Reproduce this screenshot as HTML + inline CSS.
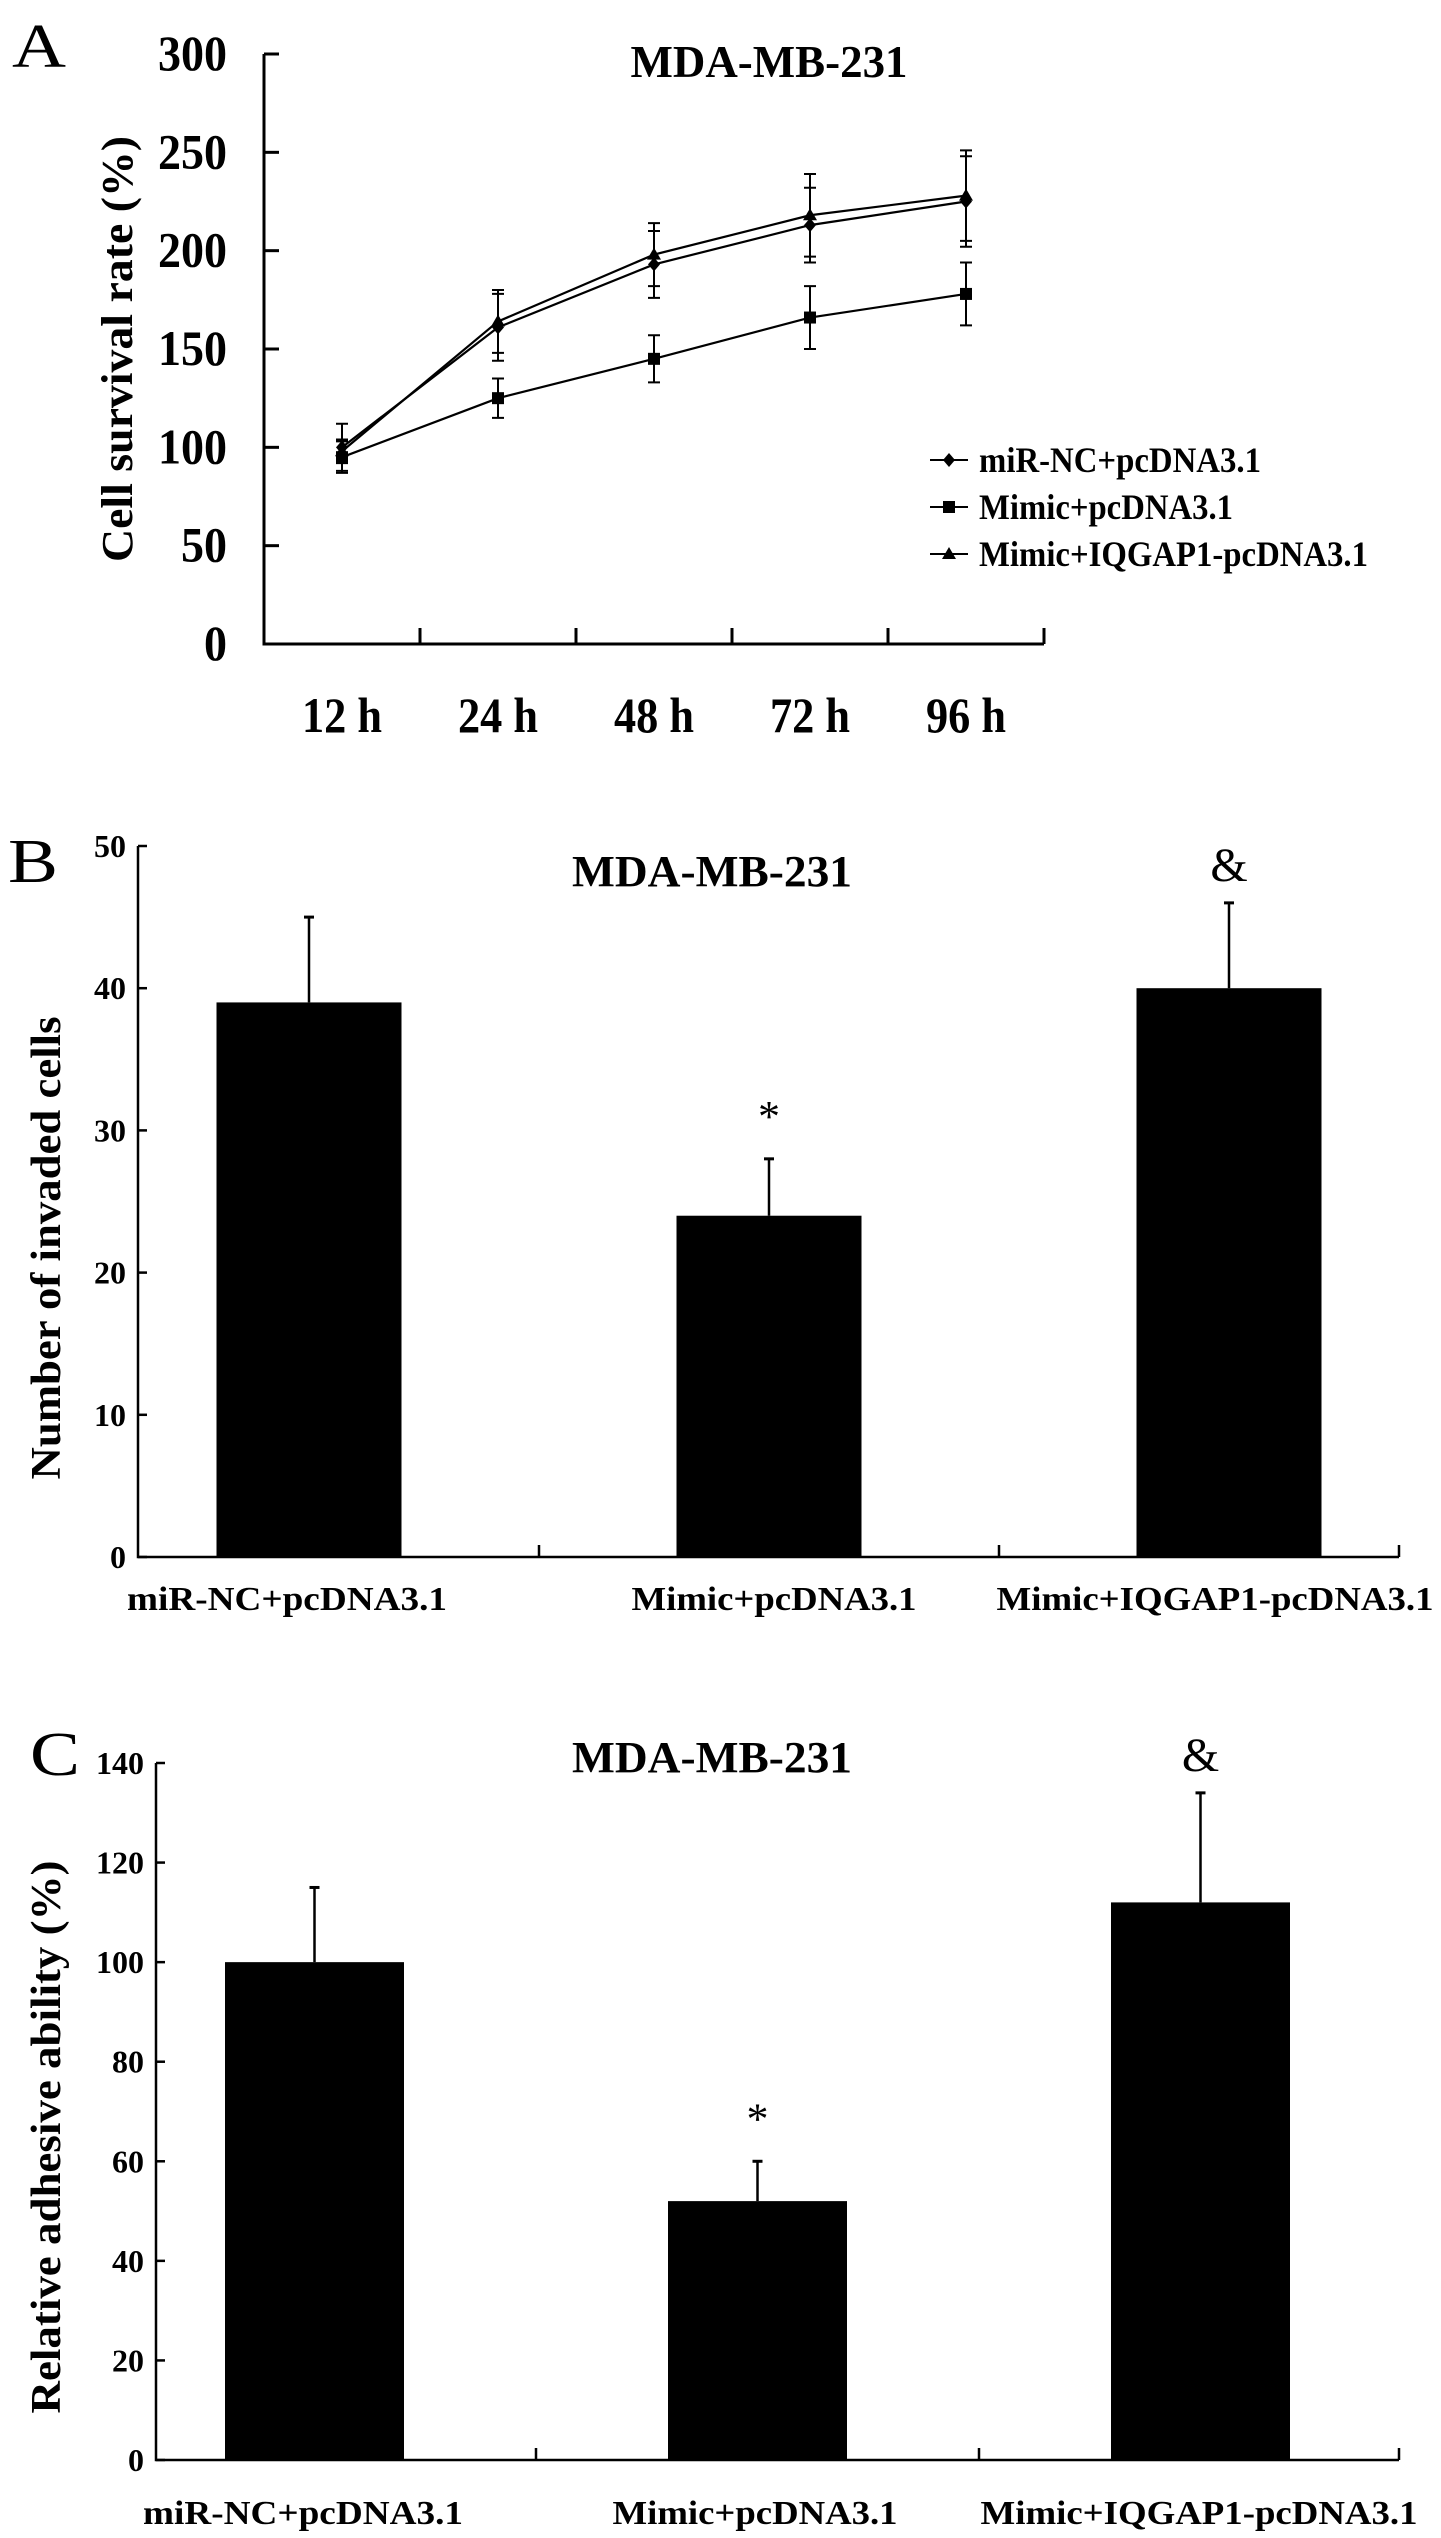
<!DOCTYPE html>
<html><head><meta charset="utf-8"><style>
html,body{margin:0;padding:0;background:#fff;}
svg{display:block;}
text{font-family:"Liberation Serif",serif;font-weight:bold;fill:#000;}
</style></head><body>
<svg id="fig" width="1441" height="2538" viewBox="0 0 1441 2538" xmlns="http://www.w3.org/2000/svg"></svg>
<script>
// ---- Panel A data ----
const timeLabels = ["12 h","24 h","48 h","72 h","96 h"];
const seriesNames = ["miR-NC+pcDNA3.1","Mimic+pcDNA3.1","Mimic+IQGAP1-pcDNA3.1"];
const mirNC = [100,161,193,213,225];
const mirNCErr = [12,17,17,19,23];
const mimic = [95,125,145,166,178];
const mimicErr = [8,10,12,16,16];
const iqgap = [98,164,198,218,228];
const iqgapErr = [6,16,16,21,23];
const aTicks = [0,50,100,150,200,250,300];
// ---- Panel B data ----
const groups = ["miR-NC+pcDNA3.1","Mimic+pcDNA3.1","Mimic+IQGAP1-pcDNA3.1"];
const invaded = [39,24,40];
const invadedErr = [6,4,6];
const invadedMarks = ["","*","&"];
const bTicks = [0,10,20,30,40,50];
// ---- Panel C data ----
const adhesive = [100,52,112];
const adhesiveErr = [15,8,22];
const adhesiveMarks = ["","*","&"];
const cTicks = [0,20,40,60,80,100,120,140];

const NS="http://www.w3.org/2000/svg";
const svg=document.getElementById('fig');
function el(tag,attrs,parent){const e=document.createElementNS(NS,tag);for(const k in attrs)e.setAttribute(k,attrs[k]);(parent||svg).appendChild(e);return e;}
function txt(s,attrs,parent){const t=el('text',attrs,parent);t.textContent=s;return t;}

// ===== Panel A =====
(function(){
  const g=el('g',{});
  
  
  const x0=264,x1=1044,yb=644,yt=54,ymax=300;
  const step=(x1-x0)/timeLabels.length;
  const xs=i=>x0+step*(i+0.5);
  const ys=v=>yb-(v/ymax)*(yb-yt);
  let t=txt('A',{x:12,y:67,'font-size':62,style:'font-weight:normal',textLength:54,lengthAdjust:'spacingAndGlyphs'},g);
  
  t=txt('MDA-MB-231',{x:769,y:77,'font-size':46,'text-anchor':'middle',textLength:277,lengthAdjust:'spacingAndGlyphs'},g);
  
  let ax=el('path',{d:`M${x0} ${yt}V${yb}H${x1}`,stroke:'#000','stroke-width':3,fill:'none'},g);
  
  aTicks.forEach(v=>{
    el('line',{x1:x0,x2:x0+15,y1:ys(v),y2:ys(v),stroke:'#000','stroke-width':3},g);
    const s=String(v);
    const l=txt(s,{x:227,y:ys(v)+16,'font-size':50,'text-anchor':'end',textLength:s.length*23,lengthAdjust:'spacingAndGlyphs'},g);
    
  });
  for(let i=1;i<=timeLabels.length;i++){el('line',{x1:x0+step*i,x2:x0+step*i,y1:yb,y2:yb-16,stroke:'#000','stroke-width':3},g);}
  timeLabels.forEach((s,i)=>{
    const l=txt(s,{x:xs(i),y:732,'font-size':50,'text-anchor':'middle',textLength:80,lengthAdjust:'spacingAndGlyphs'},g);
    
  });
  t=txt('Cell survival rate (%)',{x:0,y:0,'font-size':44,'text-anchor':'middle',textLength:426,lengthAdjust:'spacingAndGlyphs',transform:'translate(132 349) rotate(-90)'},g);
  
  const all=[[mirNC,mirNCErr,'diamond'],[mimic,mimicErr,'square'],[iqgap,iqgapErr,'triangle']];
  function marker(shape,cx,cy,parent){
    if(shape==='diamond')return el('path',{d:`M${cx} ${cy-7}L${cx+6} ${cy}L${cx} ${cy+7}L${cx-6} ${cy}Z`,fill:'#000'},parent);
    if(shape==='square')return el('rect',{x:cx-6,y:cy-6,width:12,height:12,fill:'#000'},parent);
    return el('path',{d:`M${cx} ${cy-7}L${cx+7} ${cy+5}L${cx-7} ${cy+5}Z`,fill:'#000'},parent);
  }
  all.forEach(([vals,errs,shape],si)=>{
    const sg=el('g',{},g);
    
    const p=el('polyline',{points:vals.map((v,i)=>xs(i)+','+ys(v)).join(' '),fill:'none',stroke:'#000','stroke-width':2.2},sg);
    
    vals.forEach((v,i)=>{
      const x=xs(i),yh=ys(v+errs[i]),yl=ys(v-errs[i]);
      el('path',{d:`M${x} ${yh}V${yl}M${x-6} ${yh}H${x+6}M${x-6} ${yl}H${x+6}`,stroke:'#000','stroke-width':2,fill:'none'},sg);
      const m=marker(shape,x,ys(v),sg);
      
    });
  });
  const lg=el('g',{},g);
  
  const shapes=['diamond','square','triangle'];
  const tl=[282,254,389];
  seriesNames.forEach((s,i)=>{
    const y=460+47*i;
    const e=el('g',{},lg);
    
    el('line',{x1:930,x2:968,y1:y,y2:y,stroke:'#000','stroke-width':2},e);
    marker(shapes[i],949,y,e);
    txt(s,{x:979,y:y+12,'font-size':36,textLength:tl[i],lengthAdjust:'spacingAndGlyphs'},e);
  });
})();

// ===== Bar panels =====
function barPanel(o){
  const g=el('g',{});
  
  
  const ys=v=>o.yb-(v/o.ymax)*(o.yb-o.yt);
  const xc=i=>o.bx0+o.step*(i+0.5);
  let t=txt(o.letter,{x:o.lx,y:o.ly,'font-size':62,style:'font-weight:normal',textLength:50,lengthAdjust:'spacingAndGlyphs'},g);
  
  t=txt('MDA-MB-231',{x:712,y:o.titleY,'font-size':44,'text-anchor':'middle',textLength:280,lengthAdjust:'spacingAndGlyphs'},g);
  
  const ax=el('path',{d:`M${o.ax} ${o.yt}V${o.yb}H${o.axEnd}`,stroke:'#000','stroke-width':2.5,fill:'none'},g);
  
  o.ticks.forEach(v=>{
    el('line',{x1:o.ax,x2:o.ax+9,y1:ys(v),y2:ys(v),stroke:'#000','stroke-width':2.5},g);
    const l=txt(String(v),{x:o.ax-12,y:ys(v)+11,'font-size':32,'text-anchor':'end',textLength:String(v).length*16,lengthAdjust:'spacingAndGlyphs'},g);
    
  });
  for(let i=1;i<=o.vals.length;i++){const x=o.bx0+o.step*i;const xx=Math.min(x,o.axEnd);el('line',{x1:xx,x2:xx,y1:o.yb,y2:o.yb-12,stroke:'#000','stroke-width':2.5},g);}
  const tl=[320,285,437];
  o.vals.forEach((v,i)=>{
    const x=xc(i);
    const e=el('line',{x1:x,x2:x,y1:ys(v),y2:ys(v+o.errs[i]),stroke:'#000','stroke-width':2.5},g);
    
    el('line',{x1:x-5,x2:x+5,y1:ys(v+o.errs[i]),y2:ys(v+o.errs[i]),stroke:'#000','stroke-width':3},g);
    const r=el('rect',{x:x-o.bw/2,y:ys(v),width:o.bw,height:o.yb-ys(v),fill:'#000'},g);
    
    if(o.marks[i]){
      const m=txt(o.marks[i],{x:x,y:ys(v+o.errs[i])-(o.marks[i]==='*'?28:22),'font-size':o.marks[i]==='*'?44:48,'text-anchor':'middle',style:'font-weight:normal'},g);
      
    }
    const c=txt(groups[i],{x:o.labX[i],y:o.labY,'font-size':34,'text-anchor':'middle',textLength:tl[i],lengthAdjust:'spacingAndGlyphs'},g);
    
  });
  t=txt(o.ytitle,{x:0,y:0,'font-size':42,'text-anchor':'middle',textLength:o.ytLen,lengthAdjust:'spacingAndGlyphs',transform:`translate(60 ${o.ytY}) rotate(-90)`},g);
  
}
barPanel({name:'panel-b',letter:'B',lx:8,ly:882,titleY:886,ax:138,axEnd:1399,yt:846,yb:1557,ymax:50,bx0:79,step:460,bw:185,
  vals:invaded,errs:invadedErr,marks:invadedMarks,ticks:bTicks,labX:[287,774,1215],labY:1610,
  ytitle:'Number of invaded cells',ytLen:463,ytY:1248});
barPanel({name:'panel-c',letter:'C',lx:30,ly:1775,titleY:1772,ax:156,axEnd:1399,yt:1763,yb:2460,ymax:140,bx0:93,step:443,bw:179,
  vals:adhesive,errs:adhesiveErr,marks:adhesiveMarks,ticks:cTicks,labX:[303,755,1199],labY:2524,
  ytitle:'Relative adhesive ability (%)',ytLen:553,ytY:2137});
</script>
</body></html>
